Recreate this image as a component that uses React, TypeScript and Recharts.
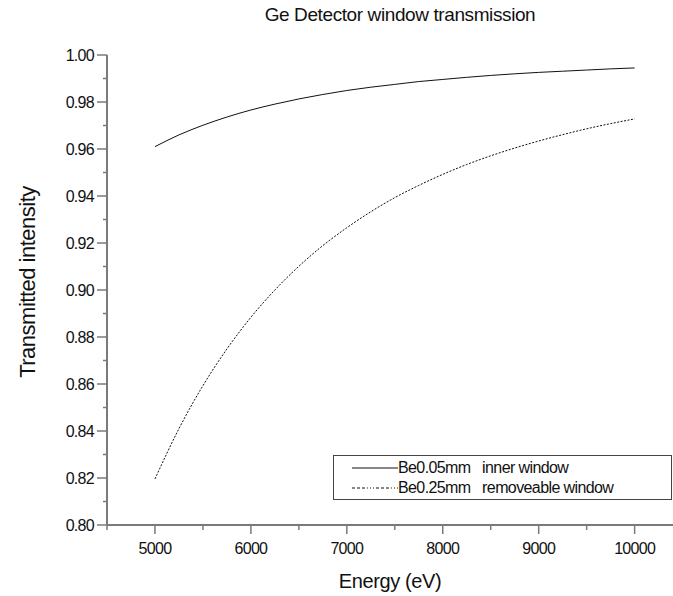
import { LineChart, Line, XAxis, YAxis, Legend, Label } from 'recharts'

const energy = [
  5000, 5250, 5500, 5750, 6000, 6250, 6500, 6750, 7000, 7250, 7500,
  7750, 8000, 8250, 8500, 8750, 9000, 9250, 9500, 9750, 10000,
]
const be005 = [
  0.961, 0.966, 0.9701, 0.9736, 0.9766, 0.9791, 0.9813, 0.9832, 0.9849, 0.9863, 0.9875,
  0.9887, 0.9896, 0.9905, 0.9913, 0.992, 0.9926, 0.9931, 0.9936, 0.9941, 0.9945,
]
const be025 = [
  0.8196, 0.841, 0.8593, 0.8749, 0.8884, 0.9, 0.9101, 0.9189, 0.9265, 0.9333, 0.9393,
  0.9445, 0.9492, 0.9534, 0.9571, 0.9604, 0.9634, 0.9661, 0.9686, 0.9708, 0.9728,
]
const xTicks = [4500, 5000, 5500, 6000, 6500, 7000, 7500, 8000, 8500, 9000, 9500, 10000]
const yTicks = [
  0.8, 0.81, 0.82, 0.83, 0.84, 0.85, 0.86, 0.87, 0.88, 0.89, 0.9,
  0.91, 0.92, 0.93, 0.94, 0.95, 0.96, 0.97, 0.98, 0.99, 1.0,
]

const data = energy.map((e, i) => ({ energy: e, thin: be005[i], thick: be025[i] }))

const FONT = "'Liberation Sans', Arial, sans-serif"
const AXIS = '#7a7a7a'
const INK = '#111'
const THICK_DASH = '2 1.5'

function XTick(props: any) {
  const { x, y, payload } = props
  const major = payload.value % 1000 === 0
  return (
    <g>
      <line x1={x} x2={x} y1={y} y2={y + (major ? 9 : 5)} stroke={AXIS} strokeWidth={1.5} />
      {major && (
        <text x={x} y={y + 29} textAnchor="middle" fontSize={16} fontFamily={FONT} fill={INK} letterSpacing={-0.7}>
          {payload.value}
        </text>
      )}
    </g>
  )
}

function YTick(props: any) {
  const { x, y, payload } = props
  const major = Math.round(payload.value * 100) % 2 === 0
  return (
    <g>
      <line x1={x} x2={x - (major ? 10 : 4)} y1={y} y2={y} stroke={AXIS} strokeWidth={1.5} />
      {major && (
        <text x={x - 13} y={y + 5.5} textAnchor="end" fontSize={16} fontFamily={FONT} fill={INK} letterSpacing={-0.7}>
          {payload.value.toFixed(2)}
        </text>
      )}
    </g>
  )
}

function LegendBox() {
  const row = { display: 'flex', alignItems: 'center', height: 20 } as const
  const txt = { whiteSpace: 'pre', fontSize: 16, fontFamily: FONT, color: INK, letterSpacing: -0.6 } as const
  return (
    <div style={{ border: '1px solid #444', boxSizing: 'border-box', width: 339, height: 45, padding: '2px 0 0 18px', background: '#fff' }}>
      <div style={row}>
        <svg width={46} height={10}>
          <line x1={0} x2={46} y1={5} y2={5} stroke={INK} strokeWidth={1} />
        </svg>
        <span style={txt}>{'Be0.05mm   inner window'}</span>
      </div>
      <div style={row}>
        <svg width={46} height={10}>
          <line x1={0} x2={46} y1={5} y2={5} stroke={INK} strokeWidth={1} strokeDasharray="3 2 3 2 3 2 1 2 1 2 1 2" />
        </svg>
        <span style={txt}>{'Be0.25mm   removeable window'}</span>
      </div>
    </div>
  )
}

export default function App() {
  return (
    <div style={{ position: 'absolute', left: 0, top: 0, width: 673, height: 596, background: '#fff', overflow: 'hidden' }}>
      <div
        style={{
          position: 'absolute', left: 0, width: 800, top: 4, textAlign: 'center',
          fontSize: 19, fontFamily: FONT, color: INK, letterSpacing: -0.4,
        }}
      >
        Ge Detector window transmission
      </div>
      <LineChart width={673} height={596} data={data} margin={{ top: 55, right: 0, bottom: 41, left: 47 }}>
        <XAxis
          type="number"
          dataKey="energy"
          domain={[4500, 10400]}
          ticks={xTicks}
          allowDataOverflow
          interval={0}
          height={30}
          tickSize={0}
          tickMargin={0}
          tick={<XTick />}
          stroke={AXIS}
          strokeWidth={2}
        >
          <Label
            content={({ viewBox }: any) => (
              <text x={viewBox.x + viewBox.width / 2} y={viewBox.y + 63} textAnchor="middle" fontSize={20} fontFamily={FONT} fill={INK} letterSpacing={-0.4}>
                Energy (eV)
              </text>
            )}
          />
        </XAxis>
        <YAxis
          type="number"
          domain={[0.8, 1.0]}
          ticks={yTicks}
          interval={0}
          width={60}
          tickSize={0}
          tickMargin={0}
          tick={<YTick />}
          stroke={AXIS}
          strokeWidth={2}
        >
          <Label
            content={({ viewBox }: any) => {
              const cx = viewBox.x - 12
              const cy = viewBox.y + viewBox.height / 2 - 8
              return (
                <text x={cx} y={cy} transform={`rotate(-90 ${cx} ${cy})`} textAnchor="middle" fontSize={22} fontFamily={FONT} fill={INK} letterSpacing={-0.5}>
                  Transmitted intensity
                </text>
              )
            }}
          />
        </YAxis>
        <Line type="monotone" dataKey="thin" stroke={INK} strokeWidth={1} dot={false} isAnimationActive={false} />
        <Line type="monotone" dataKey="thick" stroke={INK} strokeWidth={1} strokeDasharray={THICK_DASH} dot={false} isAnimationActive={false} />
        <Legend
          layout="vertical"
          align="center"
          verticalAlign="middle"
          wrapperStyle={{ left: 333, top: 455, width: 339 }}
          content={() => <LegendBox />}
        />
      </LineChart>
    </div>
  )
}
